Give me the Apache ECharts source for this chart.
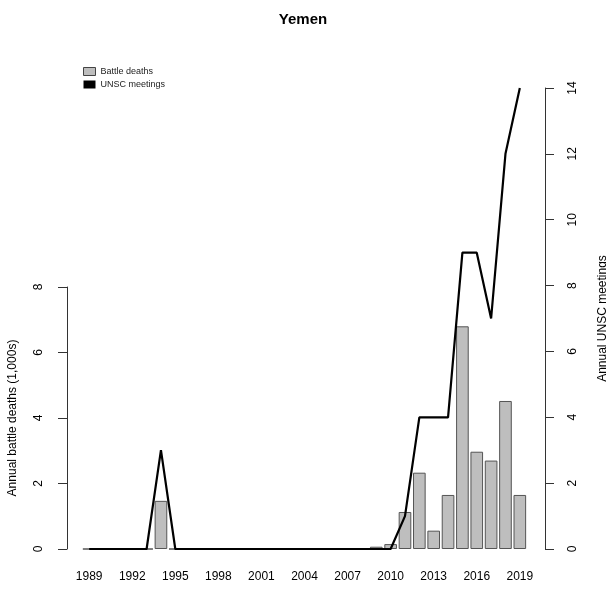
<!DOCTYPE html>
<html>
<head>
<meta charset="utf-8">
<script src="https://cdn.jsdelivr.net/npm/echarts@6/dist/echarts.min.js"></script>
<style>
  html, body { margin: 0; padding: 0; background: #fff; }
  #chart { width: 606px; height: 589px; }
</style>
</head>
<body>
<div id="chart"></div>
<script>
const years = ['1989', '1990', '1991', '1992', '1993', '1994', '1995', '1996', '1997', '1998',
  '1999', '2000', '2001', '2002', '2003', '2004', '2005', '2006', '2007', '2008',
  '2009', '2010', '2011', '2012', '2013', '2014', '2015', '2016', '2017', '2018', '2019'];
// battle deaths, thousands
const battleDeaths = [0, 0, 0, 0, 0, 1.47, 0, 0, 0, 0,
  0, 0, 0, 0, 0, 0, 0, 0, 0, 0,
  0.07, 0.15, 1.13, 2.33, 0.56, 1.65, 6.8, 2.97, 2.7, 4.52, 1.65];
const unscMeetings = [0, 0, 0, 0, 0, 3, 0, 0, 0, 0,
  0, 0, 0, 0, 0, 0, 0, 0, 0, 0,
  0, 0, 1, 4, 4, 4, 9, 9, 7, 12, 14];
const leftTicks = [0, 2, 4, 6, 8];
const rightTicks = [0, 2, 4, 6, 8, 10, 12, 14];

const chart = echarts.init(document.getElementById('chart'));
const font = 'Liberation Sans, Arial, Helvetica, sans-serif';
const axisCol = '#333';

const option = {
  animation: false,
  textStyle: { fontFamily: font },
  title: {
    text: 'Yemen',
    left: 'center',
    top: 7,
    textStyle: { fontFamily: font, fontSize: 15, fontWeight: 'bold', color: '#000' }
  },
  legend: {
    orient: 'vertical',
    left: 78,
    top: 62,
    itemWidth: 12,
    itemHeight: 8,
    itemGap: 4,
    textStyle: { fontFamily: font, fontSize: 9, color: '#222' },
    data: [
      { name: 'Battle deaths', icon: 'rect', itemStyle: { color: '#bebebe', borderColor: '#444', borderWidth: 1 } },
      { name: 'UNSC meetings', icon: 'rect', itemStyle: { color: '#000' } }
    ]
  },
  grid: [
    // bars: 0..8 on the left
    { left: 82, right: 79, top: 287, bottom: 40, outerBoundsMode: 'none' },
    // line: 0..14 on the right, same px per unit
    { left: 82, right: 79, top: 88, bottom: 40, outerBoundsMode: 'none' }
  ],
  xAxis: [
    {
      type: 'category',
      gridIndex: 0,
      data: years,
      axisLine: { show: false },
      axisTick: { show: false },
      axisLabel: { interval: 2, margin: 22, fontSize: 12, color: '#000', fontFamily: font }
    },
    {
      type: 'category',
      gridIndex: 1,
      data: years,
      show: false
    }
  ],
  yAxis: [
    {
      type: 'value',
      gridIndex: 0,
      min: 0,
      max: 8,
      interval: 2,
      offset: 15,
      name: 'Annual battle deaths (1,000s)',
      nameLocation: 'middle',
      nameGap: 48,
      nameTextStyle: { fontSize: 12, color: '#000', fontFamily: font },
      axisLine: { show: true, lineStyle: { color: axisCol, width: 1 } },
      axisTick: { show: true, length: 9, lineStyle: { color: axisCol }, customValues: leftTicks },
      axisLabel: { rotate: 90, margin: 22, fontSize: 12, color: '#000', customValues: leftTicks },
      splitLine: { show: false }
    },
    {
      type: 'value',
      gridIndex: 1,
      position: 'right',
      min: 0,
      max: 14,
      interval: 2,
      offset: 18,
      name: 'Annual UNSC meetings',
      nameLocation: 'middle',
      nameRotate: 90,
      nameGap: 52,
      nameTextStyle: { fontSize: 12, color: '#000', fontFamily: font },
      axisLine: { show: true, lineStyle: { color: axisCol, width: 1 } },
      axisTick: { show: true, length: 9, lineStyle: { color: axisCol }, customValues: rightTicks },
      axisLabel: { rotate: 90, margin: 22, fontSize: 12, color: '#000', customValues: rightTicks },
      splitLine: { show: false }
    }
  ],
  series: [
    {
      name: 'Battle deaths',
      type: 'bar',
      xAxisIndex: 0,
      yAxisIndex: 0,
      data: battleDeaths,
      barCategoryGap: '12%',
      itemStyle: { color: '#bebebe', borderColor: '#555', borderWidth: 1 }
    },
    {
      name: 'UNSC meetings',
      type: 'line',
      xAxisIndex: 1,
      yAxisIndex: 1,
      data: unscMeetings,
      symbol: 'none',
      lineStyle: { color: '#000', width: 2.2 },
      z: 3
    }
  ]
};
chart.setOption(option);
</script>
</body>
</html>
